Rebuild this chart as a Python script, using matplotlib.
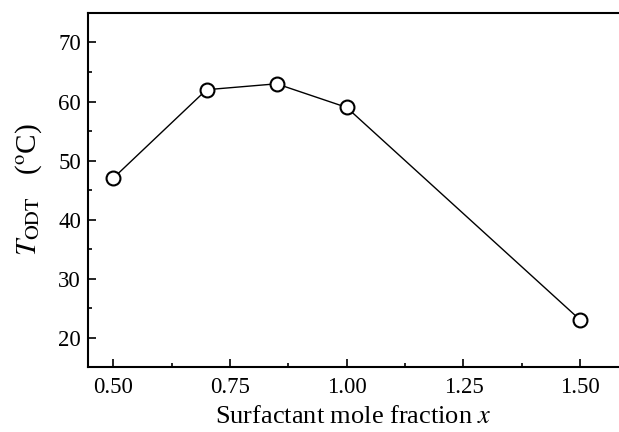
import matplotlib
matplotlib.use("Agg")
import matplotlib.pyplot as plt
from matplotlib.ticker import MultipleLocator

plt.rcParams['font.family'] = ['Liberation Serif', 'DejaVu Serif']
plt.rcParams['mathtext.fontset'] = 'stix'

# surfactant mole fraction vs order-disorder transition temperature
mole_fraction = [0.50, 0.70, 0.85, 1.00, 1.50]
t_odt = [47, 62, 63, 59, 23]

fig = plt.figure(figsize=(6.19, 4.32), dpi=100)
ax = fig.add_axes([0.142, 0.150, 0.858, 0.820])

ax.plot(mole_fraction, t_odt, color='black', linewidth=1.0,
        marker='o', markersize=10, markerfacecolor='white',
        markeredgecolor='black', markeredgewidth=1.5)

ax.set_xlim(0.446, 1.583)
ax.set_ylim(15, 75)
ax.xaxis.set_major_locator(MultipleLocator(0.25))
ax.xaxis.set_minor_locator(MultipleLocator(0.125))
ax.yaxis.set_major_locator(MultipleLocator(10))
ax.yaxis.set_minor_locator(MultipleLocator(5))
ax.xaxis.set_major_formatter(matplotlib.ticker.FormatStrFormatter('%.2f'))

ax.tick_params(which='both', direction='in', labelsize=16.5, width=1.2)
ax.tick_params(which='major', length=6)
ax.tick_params(which='minor', length=3)
ax.tick_params(axis='x', pad=7)
ax.tick_params(axis='y', pad=5)
for s in ax.spines.values():
    s.set_linewidth(1.5)
ax.spines['right'].set_visible(False)

ax.set_xlabel(r'Surfactant mole fraction $x$', fontsize=19, labelpad=6)
ax.set_ylabel(r'$T_{\mathrm{ODT}}$   ($^{\mathrm{o}}$C)', fontsize=21, labelpad=10)

fig.savefig('out.png', dpi=100)
